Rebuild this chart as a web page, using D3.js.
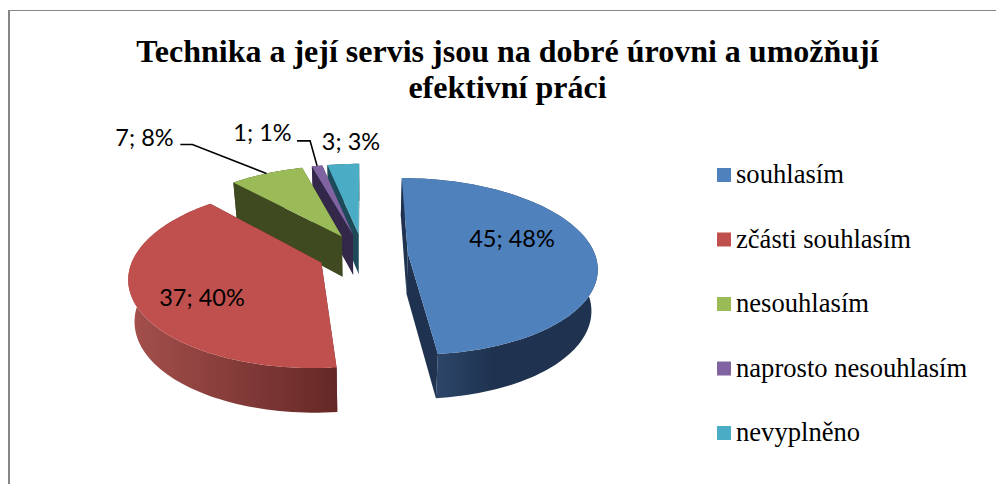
<!DOCTYPE html>
<html><head><meta charset="utf-8">
<style>html,body{margin:0;padding:0;background:#fff}svg{display:block}</style>
<script src="https://cdnjs.cloudflare.com/ajax/libs/d3/7.8.5/d3.min.js"></script>
</head><body>
<svg id="c" width="996" height="484"></svg>
<script>
const categories = ["souhlasím","zčásti souhlasím","nesouhlasím","naprosto nesouhlasím","nevyplněno"];
const values = [45,37,7,1,3];
const percents = [48,40,8,1,3];
const topColors = ["#4f81bd","#c0504d","#9bbb59","#8064a2","#4bacc6"];
const sideLight = ["#2c4568","#a5504d","#3f4a21","#33274a","#1d4a58"];
const sideDark  = ["#1f3350","#652826","#3f4a21","#33274a","#1d4a58"];
const titleLines = ["Technika a její servis jsou na dobré úrovni a umožňují","efektivní práci"];

const svg = d3.select("#c");
const defs = svg.append("defs");
svg.append("path").attr("d","M9 484V10").attr("fill","none").attr("stroke","#868686").attr("stroke-width",2);
svg.append("path").attr("d","M8 10.5H996").attr("fill","none").attr("stroke","#868686").attr("stroke-width",1);

const cx=363, cy=254, rx=187, ry=86.5, k=0.152, explode=0.24, depth=41, inset=0.027;
function proj(U,V,z){
  const s=1/(1+k*V);
  const m=z?1-inset:1;
  return [cx+rx*U*s*m, cy-ry*V*s+(z?depth*(1+0.08*(-V)):0)];
}
const pie=d3.pie().sort(null).startAngle(0).endAngle(2*Math.PI);
const arcs=pie(values).map((d,i)=>{
  const mid=(d.startAngle+d.endAngle)/2;
  return {...d,i,mid,ax:explode*Math.sin(mid),ay:explode*Math.cos(mid)};
});
const pt=(d,a,z)=>proj(d.ax+Math.sin(a),d.ay+Math.cos(a),z);
const apex=(d,z)=>proj(d.ax,d.ay,z);
const rim=(d,z)=>{
  const n=Math.max(2,Math.ceil((d.endAngle-d.startAngle)/0.03));
  return d3.range(n+1).map(j=>pt(d,d.startAngle+(d.endAngle-d.startAngle)*j/n,z));
};
const line=d3.line();
const order=[...arcs].sort((a,b)=>b.ay-a.ay);
order.forEach(d=>{
  const g=svg.append("g");
  const id="g"+d.i;
  const top=rim(d,false), bot=rim(d,true);
  const xs=top.map(p=>p[0]);
  const lg=defs.append("linearGradient").attr("id",id).attr("gradientUnits","userSpaceOnUse")
    .attr("x1",d3.min(xs)).attr("x2",d3.max(xs)).attr("y1",0).attr("y2",0);
  if(d.i===0){
    lg.attr("x1",top[top.length-1][0]).attr("x2",top[top.length-1][0]+55);
  }
  lg.append("stop").attr("offset",0).attr("stop-color",sideLight[d.i]);
  lg.append("stop").attr("offset",1).attr("stop-color",sideDark[d.i]);
  const a0=[apex(d,false),top[0],bot[0],apex(d,true)];
  const a1=[apex(d,false),top[top.length-1],bot[bot.length-1],apex(d,true)];
  g.append("path").attr("d",line(top.concat([...bot].reverse()))+"Z").attr("fill",`url(#${id})`);
  g.append("path").attr("d",line(a0)+"Z").attr("fill",sideDark[d.i]);
  g.append("path").attr("d",line(a1)+"Z").attr("fill",sideDark[d.i]);
  g.append("path").attr("d",line([apex(d,false),...top])+"Z").attr("fill",topColors[d.i]);
});

// leader lines: from the slice rim at mid-angle, through an elbow, to the label
const leaderOffsets={2:[[-74,-29],[-86,-29]],3:[[-7,-25],[-20,-25]]};
Object.entries(leaderOffsets).forEach(([i,off])=>{
  const d=arcs[+i], p=pt(d,d.mid,false);
  svg.append("path").attr("fill","none").attr("stroke","#000").attr("stroke-width",1.6)
    .attr("d",line([p,...off.map(o=>[p[0]+o[0],p[1]+o[1]])]));
});

const labelFont="Lato, 'Open Sans', sans-serif";
const labelPos=[[512,247],[202,306],[144.5,146],[262.5,141],[351,150]];
arcs.forEach(d=>{
  svg.append("text").attr("x",labelPos[d.i][0]).attr("y",labelPos[d.i][1]).attr("text-anchor","middle")
    .attr("font-family",labelFont).attr("font-size",23.5).attr("fill","#000")
    .text(`${values[d.i]}; ${percents[d.i]}%`);
});

svg.selectAll("text.t").data(titleLines).join("text").attr("class","t")
  .attr("x",507.5).attr("y",(d,i)=>62+i*36).attr("text-anchor","middle")
  .attr("font-family","'Liberation Serif'").attr("font-weight","bold").attr("font-size",32).attr("fill","#000")
  .text(d=>d);

const ly=d3.scalePoint().domain(categories).range([175,433]);
const lg=svg.append("g");
categories.forEach((c,i)=>{
  lg.append("rect").attr("x",717).attr("y",ly(c)-7).attr("width",14).attr("height",14).attr("fill",topColors[i]);
  lg.append("text").attr("x",736).attr("y",ly(c)+8).attr("font-family","'Liberation Serif'").attr("font-size",26.6).attr("fill","#000").text(c);
});
</script>
</body></html>
